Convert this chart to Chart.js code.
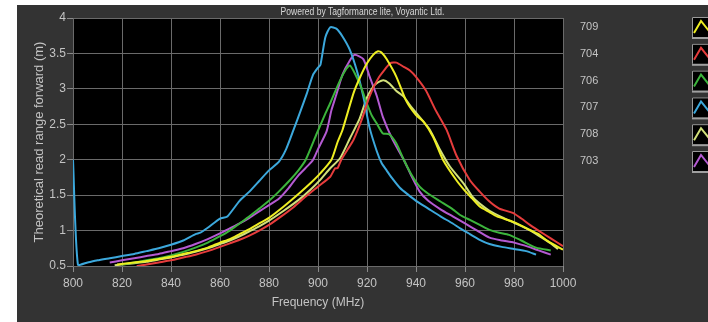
<!DOCTYPE html>
<html><head><meta charset="utf-8">
<script src="https://cdn.jsdelivr.net/npm/chart.js@4"></script>
<style>html,body{margin:0;padding:0;background:#fff;overflow:hidden}#wrap{width:708px;height:322px}</style>
</head><body><div id="wrap"><canvas id="c" width="708" height="322"></canvas></div>
<script>
const seriesNames = ['709', '704', '706', '707', '708', '703'];
const seriesColors = ['#eeee22', '#e63c3c', '#3cb43c', '#3ca8dc', '#d2e07a', '#b45ad2'];

const f709 = [818,825,830,835,840,845,850,855,860,864,868,872,876,880,886,892.5,897,901,905.5,908,910,914.5,917,920,922.5,924.5,926,928,932,936,940,943,947,951,956.5,960,963,966,970,973,980,986.5,990,993,1000];
const v709 = [0.52,0.55,0.57,0.60,0.63,0.67,0.71,0.76,0.83,0.88,0.95,1.02,1.10,1.18,1.34,1.53,1.67,1.81,2.00,2.25,2.42,2.94,3.15,3.36,3.48,3.53,3.51,3.42,3.17,2.83,2.63,2.54,2.32,2.00,1.71,1.56,1.45,1.34,1.26,1.20,1.12,1.01,0.95,0.87,0.73];

const f704 = [826,830,835,840,845,850,855,860,864,868,872,876,880,885,890,895,900,905,907,908,909.5,912,914.5,918,921,925,929.5,932,935,937.5,940,944,948,952.5,956.5,962,966,970,974,979.5,983,986.5,990,995,1000];
const v704 = [0.50,0.52,0.55,0.58,0.62,0.66,0.71,0.77,0.82,0.87,0.93,1.00,1.08,1.20,1.33,1.48,1.62,1.76,1.88,1.88,2.00,2.14,2.28,2.58,2.89,3.17,3.36,3.37,3.31,3.26,3.17,2.98,2.70,2.42,2.06,1.71,1.55,1.41,1.31,1.25,1.17,1.08,1.00,0.89,0.78];

const f706 = [820,825,830,835,840,845,850,855,860,864,868,872,876,880,884,888.5,892,895,899.5,903,905,909,911.5,913,915,917.5,920,922,924,926.5,929,932,935,938,941.5,945,950,955,958,962,966,970,974,978,983,989,995];
const v706 = [0.52,0.55,0.58,0.61,0.65,0.70,0.76,0.83,0.92,1.00,1.10,1.20,1.31,1.42,1.55,1.71,1.85,2.00,2.37,2.65,2.80,3.12,3.28,3.33,3.22,3.03,2.79,2.62,2.51,2.37,2.36,2.23,2.00,1.80,1.62,1.52,1.41,1.30,1.22,1.15,1.08,1.01,0.97,0.94,0.86,0.76,0.72];

const f707 = [800,802,806,810,815,820,825,830,835,840,845,850,852,855,860,863,868,872,876,880,884,887,890,893,895.5,898,900,901,903,905,907.5,910,913,916,918.5,921,924,926,928,930,933.5,937,940,945,950,955,958,962,966,970,975,980,985,989];
const v707 = [2.00,0.52,0.55,0.58,0.61,0.64,0.67,0.71,0.75,0.80,0.86,0.95,0.97,1.04,1.17,1.20,1.42,1.55,1.70,1.85,1.97,2.15,2.42,2.70,2.94,3.20,3.30,3.34,3.73,3.87,3.85,3.74,3.55,3.24,2.89,2.46,2.12,1.95,1.85,1.75,1.60,1.50,1.42,1.31,1.20,1.10,1.03,0.95,0.87,0.81,0.77,0.74,0.71,0.66];

const f708 = [817,825,830,835,840,845,850,855,860,864,868,872,876,880,886,892,897,901,905,909,913,917,920,922.5,924,926.7,929,932,935,937.5,941.5,945.7,949.8,953.9,959.3,963,966,970,975,980,985,990,995,998];
const v708 = [0.51,0.54,0.56,0.59,0.62,0.66,0.70,0.75,0.81,0.86,0.92,0.99,1.06,1.14,1.28,1.43,1.58,1.72,1.88,2.02,2.30,2.58,2.88,3.03,3.08,3.12,3.08,2.97,2.89,2.77,2.60,2.42,2.14,1.90,1.67,1.48,1.38,1.28,1.19,1.11,1.03,0.93,0.82,0.74];

const f703 = [815,820,825,830,835,840,845,850,855,860,864,868,872,876,880,884,888,892,896,898,900,903.5,905.5,907.5,910,913,915,918.5,921,924,926.5,930.5,935,938,941.5,945,950,955,960,965,970,975,980,986,990,995];
const v703 = [0.55,0.58,0.61,0.64,0.67,0.71,0.75,0.81,0.88,0.96,1.03,1.10,1.18,1.27,1.36,1.45,1.60,1.78,1.92,2.00,2.15,2.40,2.70,2.92,3.20,3.40,3.48,3.42,3.18,2.90,2.60,2.28,2.00,1.78,1.55,1.42,1.30,1.20,1.10,1.00,0.90,0.86,0.83,0.77,0.72,0.66];

const xTicks = [800, 820, 840, 860, 880, 900, 920, 940, 960, 980, 1000];
const yTicks = [0.5, 1, 1.5, 2, 2.5, 3, 3.5, 4];
const xTitle = 'Frequency (MHz)';
const yTitle = 'Theoretical read range forward (m)';
const topTitle = 'Powered by Tagformance lite, Voyantic Ltd.';

const freqs = [f709, f704, f706, f707, f708, f703];
const vals = [v709, v704, v706, v707, v708, v703];

const FONT = "'Liberation Sans', Arial, sans-serif";
const TXT = '#c4c4c4';

const decor = {
  id: 'decor',
  beforeDraw(chart) {
    const ctx = chart.ctx, a = chart.chartArea;
    ctx.save();
    ctx.fillStyle = '#ffffff';
    ctx.fillRect(0, 0, chart.width, chart.height);
    ctx.fillStyle = '#333333';
    ctx.fillRect(17, 5, chart.width - 17, chart.height - 5);
    ctx.fillStyle = '#000000';
    ctx.fillRect(a.left, a.top, a.right - a.left, a.bottom - a.top);
    ctx.restore();
  },
  afterDraw(chart) {
    const ctx = chart.ctx, a = chart.chartArea;
    ctx.save();
    ctx.font = "10px " + FONT;
    ctx.fillStyle = '#d8d8d8';
    ctx.textBaseline = 'middle';
    const w = ctx.measureText(topTitle).width;
    const target = 164;
    const cx = (17 + chart.width) / 2;
    ctx.translate(cx, 12);
    ctx.scale(target / w, 1);
    ctx.textAlign = 'center';
    ctx.fillText(topTitle, 0, 0);
    ctx.restore();
    ctx.save();
    const x0 = a.right + 17, ix = 692, step = 26.8;
    for (let i = 0; i < seriesNames.length; i++) {
      const cy = a.top + 9 + i * step;
      ctx.font = "11px " + FONT;
      ctx.fillStyle = TXT;
      ctx.textAlign = 'left';
      ctx.textBaseline = 'middle';
      ctx.fillText(seriesNames[i], x0, cy);
      ctx.fillStyle = '#000';
      ctx.fillRect(ix, cy - 10, chart.width - ix, 20);
      ctx.strokeStyle = '#9a9a9a';
      ctx.lineWidth = 1;
      ctx.beginPath();
      ctx.moveTo(ix + 0.5, cy + 10);
      ctx.lineTo(ix + 0.5, cy - 9.5);
      ctx.lineTo(chart.width, cy - 9.5);
      ctx.stroke();
      ctx.fillStyle = '#a0a0a0';
      ctx.fillRect(ix, cy + 10, chart.width - ix, 2);
      ctx.strokeStyle = seriesColors[i];
      ctx.lineWidth = 2;
      ctx.beginPath();
      ctx.moveTo(ix + 2, cy + 6);
      ctx.lineTo(ix + 9, cy - 6);
      ctx.lineTo(ix + 17, cy + 4);
      ctx.stroke();
    }
    ctx.restore();
  }
};

new Chart(document.getElementById('c'), {
  type: 'line',
  data: {
    datasets: seriesNames.map((n, i) => ({
      label: n,
      data: freqs[i].map((x, j) => ({ x: x, y: vals[i][j] })),
      borderColor: seriesColors[i],
      borderWidth: 2,
      pointRadius: 0,
      tension: 0.2,
      fill: false
    }))
  },
  options: {
    responsive: false,
    animation: false,
    devicePixelRatio: 1,
    layout: { padding: { left: 17, top: 18, right: 145, bottom: 0 } },
    plugins: { legend: { display: false }, tooltip: { enabled: false }, title: { display: false } },
    scales: {
      x: {
        type: 'linear', min: 800, max: 1000,
        afterBuildTicks: s => { s.ticks = xTicks.map(v => ({ value: v })); },
        afterFit: s => { s.height = 56; },
        grid: { color: '#6a6a6a', lineWidth: 1, tickLength: 6, tickColor: '#8a8a8a' },
        border: { display: false },
        ticks: { color: TXT, font: { family: FONT, size: 12 }, padding: 4, maxRotation: 0, autoSkip: false, callback: v => String(v) },
        title: { display: true, text: xTitle, color: TXT, font: { family: FONT, size: 12 }, padding: { top: 0, bottom: 12 } }
      },
      y: {
        type: 'linear', min: 0.5, max: 4,
        afterBuildTicks: s => { s.ticks = yTicks.map(v => ({ value: v })); },
        afterFit: s => { s.width = 56; },
        grid: { color: '#6a6a6a', lineWidth: 1, tickLength: 6, tickColor: '#8a8a8a' },
        border: { display: false },
        ticks: { color: TXT, font: { family: FONT, size: 12 }, padding: 1, autoSkip: false, callback: v => String(v) },
        title: { display: true, text: yTitle, color: TXT, font: { family: FONT, size: 13 }, padding: { top: 15, bottom: 0 } }
      }
    }
  },
  plugins: [decor]
});
</script></body></html>
